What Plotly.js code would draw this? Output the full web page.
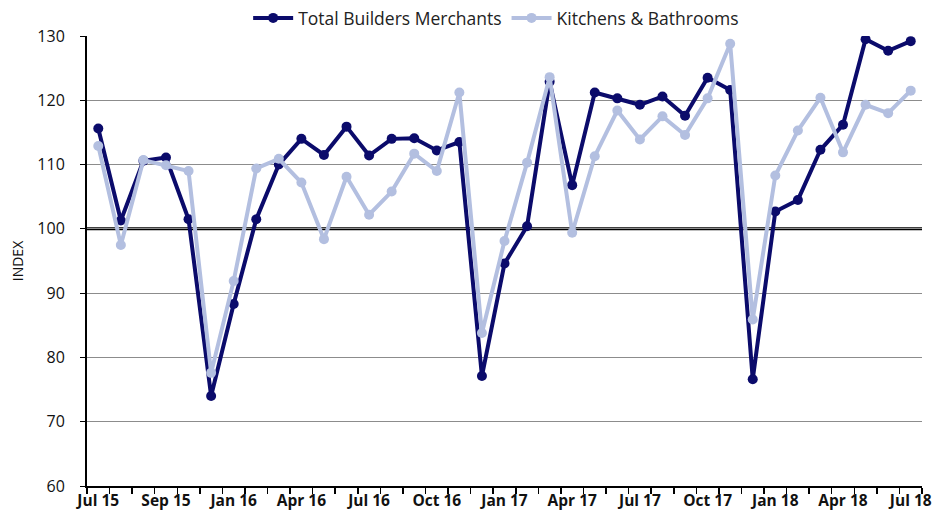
<!DOCTYPE html>
<html>
<head>
<meta charset="utf-8">
<script src="https://cdn.plot.ly/plotly-3.0.1.min.js"></script>
<style>html,body{margin:0;padding:0;background:#fff;}#chart{width:950px;height:520px;}</style>
</head>
<body>
<div id="chart"></div>
<script>
const months = ['Jul 15','Aug 15','Sep 15','Oct 15','Nov 15','Dec 15','Jan 16','Feb 16','Mar 16','Apr 16','May 16','Jun 16','Jul 16','Aug 16','Sep 16','Oct 16','Nov 16','Dec 16','Jan 17','Feb 17','Mar 17','Apr 17','May 17','Jun 17','Jul 17','Aug 17','Sep 17','Oct 17','Nov 17','Dec 17','Jan 18','Feb 18','Mar 18','Apr 18','May 18','Jun 18','Jul 18'];
const totalBuilders = [115.6,101.3,110.6,111.1,101.5,74.0,88.3,101.5,110.0,114.0,111.5,115.9,111.4,114.0,114.1,112.2,113.5,77.1,94.6,100.4,122.9,106.8,121.2,120.3,119.3,120.6,117.6,123.5,121.6,76.6,102.7,104.5,112.3,116.2,129.5,127.7,129.2];
const kitchensBathrooms = [112.9,97.5,110.7,109.9,109.0,77.6,91.9,109.4,110.9,107.2,98.4,108.1,102.2,105.8,111.7,109.0,121.2,83.8,98.1,110.3,123.6,99.4,111.3,118.4,113.9,117.5,114.6,120.3,128.8,85.9,108.3,115.3,120.4,111.9,119.3,118.0,121.5];
const tickIdx = [0,3,6,9,12,15,18,21,24,27,30,33,36];
const tickText = ['Jul 15','Sep 15','Jan 16','Apr 16','Jul 16','Oct 16','Jan 17','Apr 17','Jul 17','Oct 17','Jan 18','Apr 18','Jul 18'];
const seriesNames = ['Total Builders Merchants','Kitchens & Bathrooms'];

const xs = months.map((m, i) => i);

const traces = [
  {x: xs, y: totalBuilders, name: seriesNames[0], type: 'scatter', mode: 'lines+markers',
   line: {color: '#0b0b6b', width: 4}, marker: {color: '#0b0b6b', size: 10},
   text: months, hovertemplate: '%{text}: %{y}<extra></extra>'},
  {x: xs, y: kitchensBathrooms, name: seriesNames[1], type: 'scatter', mode: 'lines+markers',
   line: {color: '#b3bfe0', width: 4}, marker: {color: '#b3bfe0', size: 10},
   text: months, hovertemplate: '%{text}: %{y}<extra></extra>'}
];

const layout = {
  width: 950, height: 520,
  margin: {l: 87, r: 28, t: 28, b: 34},
  paper_bgcolor: '#fff', plot_bgcolor: '#fff',
  font: {family: 'Open Sans, Liberation Sans, sans-serif', color: '#111', size: 15},
  showlegend: true,
  legend: {orientation: 'h', xref: 'paper', x: 0.49, xanchor: 'center',
           yref: 'container', y: 1, yanchor: 'top',
           font: {size: 17.5, color: '#222'}, itemwidth: 40, tracegroupgap: 0, bgcolor: 'rgba(0,0,0,0)'},
  xaxis: {
    type: 'linear', range: [-0.5, 36.5],
    tickmode: 'array', tickvals: tickIdx, ticktext: tickText,
    ticks: '', showgrid: false, zeroline: false,
    showline: true, linecolor: '#000', linewidth: 2,
    ticklabelstandoff: -1,
    tickfont: {size: 15.5, color: '#111', weight: 'bold'},
    minor: {tick0: -0.5, dtick: 1, ticks: 'outside', ticklen: 6, tickwidth: 1.5, tickcolor: '#000', showgrid: false},
    fixedrange: true
  },
  yaxis: {
    range: [60, 130], dtick: 10, tick0: 60,
    showgrid: true, gridcolor: '#8c8c8c', gridwidth: 1,
    zeroline: false, showline: true, linecolor: '#000', linewidth: 2,
    ticks: 'outside', ticklen: 5, tickcolor: '#000', tickwidth: 1,
    ticklabelstandoff: 12,
    tickfont: {size: 16, color: '#111'},
    title: {text: 'INDEX', font: {size: 14, color: '#111'}, standoff: 10},
    fixedrange: true
  },
  shapes: [{type: 'line', xref: 'paper', x0: 0, x1: 1, yref: 'y', y0: 100, y1: 100,
            line: {color: '#000', width: 3}, layer: 'below'}]
};

Plotly.newPlot('chart', traces, layout, {displayModeBar: false, staticPlot: true});
</script>
</body>
</html>
